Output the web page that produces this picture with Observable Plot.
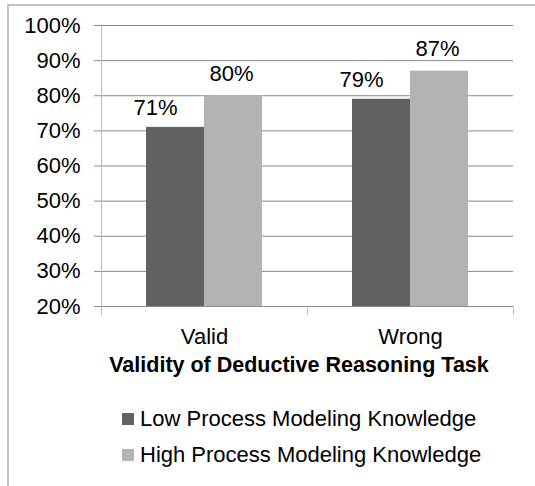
<!DOCTYPE html>
<html>
<head>
<meta charset="utf-8">
<script src="https://cdn.jsdelivr.net/npm/d3@7"></script>
<script src="https://cdn.jsdelivr.net/npm/@observablehq/plot@0.6"></script>
<style>
  html, body { margin: 0; padding: 0; background: #fff; width: 535px; height: 486px; overflow: hidden; }
  #border { position: absolute; left: 7px; top: 4px; width: 600px; height: 600px;
            border-top: 2px solid #c4c4c4; border-left: 2px solid #c4c4c4; }
  #chart { position: absolute; left: 0; top: 0; }
  #xtitle { position: absolute; left: 93px; width: 412px; top: 353px; line-height: 24px;
            text-align: center; font: bold 21.5px "Liberation Sans", Arial, sans-serif; color: #000; white-space: nowrap; }
  .lg { position: absolute; left: 122px; height: 24px; display: flex; align-items: center;
        font: 22px "Liberation Sans", Arial, sans-serif; color: #000; white-space: nowrap; }
  .lg .sw { width: 12px; height: 12px; margin-right: 6px; }
</style>
</head>
<body>
<div id="border"></div>
<div id="chart"></div>
<div id="xtitle"></div>
<div id="legend"></div>
<script>
const categories = ["Valid", "Wrong"];
const seriesNames = ["Low Process Modeling Knowledge", "High Process Modeling Knowledge"];
const lowValues = [0.71, 0.79];
const highValues = [0.80, 0.87];
const yTicks = [0.2, 0.3, 0.4, 0.5, 0.6, 0.7, 0.8, 0.9, 1.0];
const seriesColors = ["#616161", "#b3b3b3"];
const xTitle = "Validity of Deductive Reasoning Task";

const data = categories.flatMap((c, i) => [
  {category: c, series: seriesNames[0], value: lowValues[i]},
  {category: c, series: seriesNames[1], value: highValues[i]}
]);
const pct = d3.format(".0%");

const plot = Plot.plot({
  width: 535,
  height: 390,
  marginLeft: 101,
  marginRight: 22,
  marginTop: 25,
  marginBottom: 84,
  style: {fontFamily: '"Liberation Sans", Arial, sans-serif', fontSize: "22px", color: "#000", background: "transparent", overflow: "visible"},
  fx: {domain: categories, padding: 0, label: null},
  x: {domain: seriesNames, paddingInner: 0, paddingOuter: 0.746, axis: null},
  y: {domain: [yTicks[0], yTicks[yTicks.length - 1]], axis: null},
  color: {domain: seriesNames, range: seriesColors},
  marks: [
    Plot.gridY(yTicks.slice(1), {stroke: "#878787", strokeOpacity: 1}),
    Plot.barY(data, {fx: "category", x: "series", y1: yTicks[0], y2: "value", fill: "series"}),
    Plot.ruleY([yTicks[0]], {stroke: "#8a8a8a"}),
    Plot.frame({anchor: "left", facetAnchor: "left", stroke: "#bdbdbd", insetBottom: -8}),
    Plot.frame({anchor: "right", stroke: "#c0c0c0", insetTop: 281, insetBottom: -8}),
    Plot.axisY(yTicks, {tickSize: 7, tickPadding: 14, stroke: "#888", tickFormat: pct, label: null, fontSize: 22}),
    Plot.axisFx({anchor: "bottom", tickSize: 0, tickPadding: 22, label: null, fontSize: 22}),
    Plot.text(data.filter(d => d.series === seriesNames[0]), {fx: "category", x: "series", y: "value", text: d => pct(d.value), lineAnchor: "bottom", dy: -12, dx: -20, fill: "#000", fontSize: 22}),
    Plot.text(data.filter(d => d.series === seriesNames[1]), {fx: "category", x: "series", y: "value", text: d => pct(d.value), lineAnchor: "bottom", dy: -15, dx: -2, fill: "#000", fontSize: 22})
  ]
});
document.getElementById("chart").appendChild(plot);
document.getElementById("xtitle").textContent = xTitle;

const legend = document.getElementById("legend");
const legendTops = [407, 442.5];
seriesNames.forEach((s, i) => {
  const row = document.createElement("div");
  row.className = "lg";
  row.style.top = legendTops[i] + "px";
  const sw = document.createElement("span");
  sw.className = "sw";
  sw.style.background = seriesColors[i];
  const t = document.createElement("span");
  t.textContent = s;
  row.appendChild(sw);
  row.appendChild(t);
  legend.appendChild(row);
});
</script>
</body>
</html>
